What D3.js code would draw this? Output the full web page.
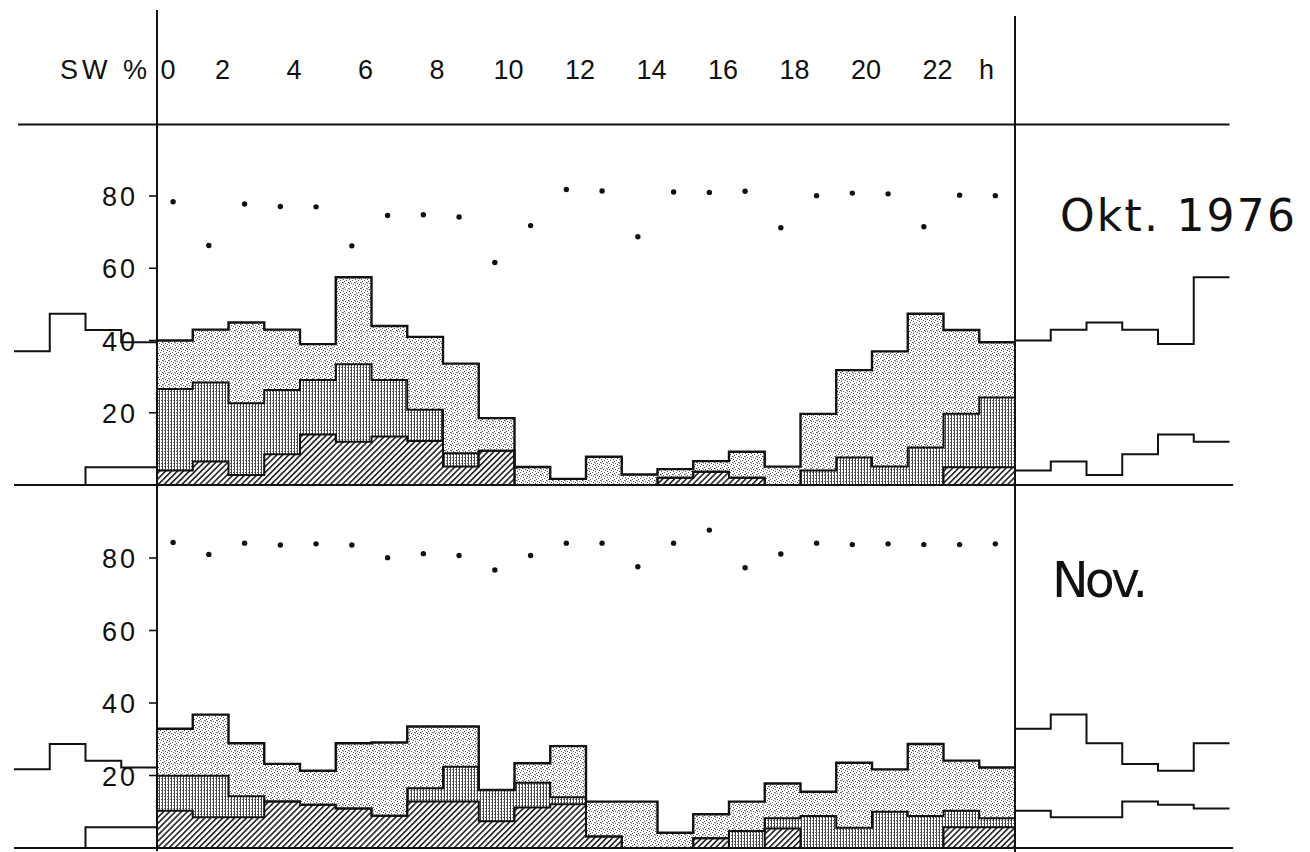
<!DOCTYPE html>
<html>
<head>
<meta charset="utf-8">
<script src="https://cdn.jsdelivr.net/npm/d3@7/dist/d3.min.js"></script>
<style>
  html, body { margin: 0; padding: 0; background: #fff; }
  svg { display: block; }
  text { font-family: "Liberation Sans", "DejaVu Sans", sans-serif; fill: #111; }
  text.title { font-family: "DejaVu Sans", "Liberation Sans", sans-serif; }
</style>
</head>
<body>
<svg id="chart" width="1310" height="852"></svg>
<script>
// Hourly share of weather situations (SW %), October and November 1976
const hours = d3.range(24);

// October 1976
const oktTotal = [40, 43, 45, 43, 39, 57.5, 44, 41, 33.6, 18.5, 5.0, 1.7, 7.8, 2.9, 4.4, 6.6, 9.2, 5.1, 19.7, 31.8, 37.0, 47.4, 42.9, 39.5];
const oktMid   = [26.6, 28.4, 22.6, 26.3, 29.1, 33.4, 29.1, 20.8, 8.8, 9.5, 0, 0, 0, 0, 2.0, 3.7, 2.0, 0, 4.0, 7.6, 5.1, 10.4, 19.7, 24.2];
const oktHatch = [4.0, 6.5, 2.8, 8.5, 14.0, 12.0, 13.4, 12.2, 5.1, 9.5, 0, 0, 0, 0, 2.0, 3.7, 2.0, 0, 0, 0, 0, 0, 4.9, 4.9];
const oktDots  = [78.4, 66.3, 77.8, 77.1, 77.0, 66.2, 74.6, 74.8, 74.2, 61.6, 71.8, 81.8, 81.4, 68.7, 81.1, 81.0, 81.3, 71.2, 80.1, 80.8, 80.6, 71.5, 80.2, 80.1];

// November 1976
const novTotal = [32.9, 36.8, 28.9, 23.2, 21.3, 28.9, 29.1, 33.5, 33.5, 16.0, 23.4, 28.1, 12.8, 12.8, 4.2, 9.3, 12.8, 17.8, 15.5, 23.5, 21.7, 28.7, 24.1, 22.2];
const novMid   = [19.9, 19.9, 14.3, 12.8, 11.9, 10.9, 8.9, 16.5, 22.4, 16.0, 18.0, 14.0, 3.2, 0, 0, 2.7, 4.7, 8.2, 8.8, 5.6, 10.0, 8.8, 10.3, 8.2];
const novHatch = [10.3, 8.5, 8.5, 12.8, 11.9, 10.9, 8.9, 12.8, 12.8, 7.4, 11.2, 12.1, 3.2, 0, 0, 2.7, 0, 5.4, 0, 0, 0, 0, 5.7, 5.7];
const novDots  = [84.3, 81.0, 84.1, 83.6, 83.9, 83.6, 80.1, 81.2, 80.7, 76.7, 80.7, 84.1, 84.1, 77.6, 84.1, 87.7, 77.3, 81.1, 84.1, 83.7, 83.9, 83.7, 83.7, 83.9];

// Axis labels
const hourTicks = [0, 2, 4, 6, 8, 10, 12, 14, 16, 18, 20, 22];
const valueTicks = [20, 40, 60, 80];
const panelTitles = ["Okt. 1976", "Nov."];

const svg = d3.select("#chart");
const x = d3.scaleLinear().domain([0, 24]).range([157, 1015]);
const yOkt = d3.scaleLinear().domain([0, 80]).range([485, 196]);
const yNov = d3.scaleLinear().domain([0, 80]).range([848, 558]);

// Fill patterns: light stipple, dense raster, diagonal hatching
const defs = svg.append("defs");
const light = defs.append("pattern").attr("id", "light")
  .attr("width", 6).attr("height", 6).attr("patternUnits", "userSpaceOnUse");
light.append("rect").attr("width", 6).attr("height", 6).attr("fill", "#fff");
[[0,0],[3,1],[1,3],[4,4],[2,5],[5,2],[1,0.5]].forEach(([px, py]) =>
  light.append("rect").attr("x", px).attr("y", py).attr("width", 1).attr("height", 1).attr("fill", "#555"));

const mid = defs.append("pattern").attr("id", "mid")
  .attr("width", 3).attr("height", 3).attr("patternUnits", "userSpaceOnUse");
mid.append("rect").attr("width", 3).attr("height", 3).attr("fill", "#fff");
mid.append("rect").attr("x", 0).attr("width", 1).attr("height", 3).attr("fill", "#444");
mid.append("rect").attr("x", 2).attr("y", 1).attr("width", 1).attr("height", 1).attr("fill", "#666");

const hatch = defs.append("pattern").attr("id", "hatch")
  .attr("width", 4.2).attr("height", 4.2).attr("patternUnits", "userSpaceOnUse")
  .attr("patternTransform", "rotate(45)");
hatch.append("rect").attr("width", 4.2).attr("height", 4.2).attr("fill", "#fff");
hatch.append("rect").attr("x", 0).attr("width", 1.6).attr("height", 4.2).attr("fill", "#222");

const step = d3.line().x(d => x(d[0])).curve(d3.curveStepAfter);

function stepPoints(values, start) {
  const pts = values.map((v, i) => [start + i, v]);
  pts.push([start + values.length, values[values.length - 1]]);
  return pts;
}

function drawPanel(y, total, midV, hatchV, dots, title, titleX, titleY, titleSize, titleLen) {
  const g = svg.append("g");
  const layers = [[total, "url(#light)"], [midV, "url(#mid)"], [hatchV, "url(#hatch)"]];
  layers.forEach(([vals, fill]) => {
    g.append("g").selectAll("rect").data(hours.filter(h => vals[h] > 0)).join("rect")
      .attr("x", h => x(h)).attr("width", h => x(h + 1) - x(h))
      .attr("y", h => y(vals[h])).attr("height", h => y(0) - y(vals[h]))
      .attr("fill", fill).attr("shape-rendering", "crispEdges");
  });
  const line = step.y(d => y(d[1]));
  [[hatchV, 2], [midV, 2], [total, 2.4]].forEach(([vals, w]) => {
    g.append("path").attr("d", line(stepPoints(vals, 0)))
      .attr("fill", "none").attr("stroke", "#111").attr("stroke-width", w);
  });

  // wrap-around continuation: last hours to the left, first hours to the right
  [total, hatchV].forEach(vals => {
    g.append("path").attr("d", line(stepPoints(vals.slice(20, 24), -4)))
      .attr("fill", "none").attr("stroke", "#111").attr("stroke-width", 2);
    g.append("path").attr("d", line(stepPoints(vals.slice(0, 6), 24)))
      .attr("fill", "none").attr("stroke", "#111").attr("stroke-width", 2);
  });

  // baseline
  g.append("line").attr("x1", x(-4)).attr("x2", x(30.1))
    .attr("y1", y(0)).attr("y2", y(0)).attr("stroke", "#111").attr("stroke-width", 2.2);

  // dots
  g.append("g").selectAll("circle").data(hours).join("circle")
    .attr("cx", h => x(h + 0.45)).attr("cy", h => y(dots[h])).attr("r", 2.7).attr("fill", "#111");

  // value axis
  const ticks = g.append("g");
  ticks.selectAll("line").data(valueTicks).join("line")
    .attr("x1", x(0) - 8).attr("x2", x(0)).attr("y1", d => y(d)).attr("y2", d => y(d))
    .attr("stroke", "#111").attr("stroke-width", 1.6);
  ticks.selectAll("text").data(valueTicks).join("text")
    .attr("x", x(0) - 19).attr("y", d => y(d) + 10)
    .attr("text-anchor", "end").attr("font-size", 27).attr("letter-spacing", 3)
    .text(d => d);

  g.append("text").attr("class", "title").attr("x", titleX).attr("y", titleY)
    .attr("font-size", titleSize).attr("textLength", titleLen).attr("lengthAdjust", "spacing")
    .text(title);
}

drawPanel(yOkt, oktTotal, oktMid, oktHatch, oktDots, panelTitles[0], 1060, 231, 44, 235);
drawPanel(yNov, novTotal, novMid, novHatch, novDots, panelTitles[1], 1052, 597, 49, 96);

// header: hour labels and rule
const head = svg.append("g");
head.selectAll("text.hr").data(hourTicks).join("text").attr("class", "hr")
  .attr("x", d => d === 0 ? x(0) + 11 : x(d) - 6).attr("y", 79)
  .attr("text-anchor", "middle").attr("font-size", 27)
  .text(d => d);
head.append("text").attr("x", x(23.2)).attr("y", 79).attr("text-anchor", "middle")
  .attr("font-size", 27).text("h");
head.append("text").attr("x", x(0) - 6).attr("y", 79).attr("text-anchor", "end")
  .attr("font-size", 27).attr("letter-spacing", 4).text("SW %");
head.append("line").attr("x1", 18).attr("x2", x(30)).attr("y1", 124.5).attr("y2", 124.5)
  .attr("stroke", "#111").attr("stroke-width", 1.8);

// vertical frame lines at 0 h and 24 h
svg.append("line").attr("x1", x(0)).attr("x2", x(0)).attr("y1", 10).attr("y2", 851)
  .attr("stroke", "#111").attr("stroke-width", 2);
svg.append("line").attr("x1", x(24)).attr("x2", x(24)).attr("y1", 16).attr("y2", 852)
  .attr("stroke", "#111").attr("stroke-width", 2);
</script>
</body>
</html>
